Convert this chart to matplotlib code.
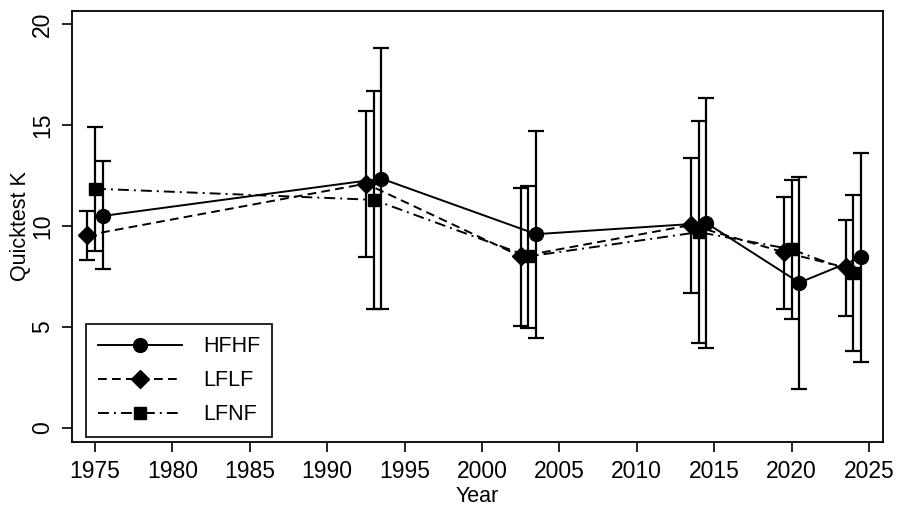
import matplotlib
matplotlib.use("Agg")
from matplotlib import pyplot as plt
import numpy as np

plt.rcParams['font.family'] = ['Liberation Sans', 'DejaVu Sans']

waves = np.array([1975, 1993, 2003, 2014, 2020, 2024])

# HFHF (circle), drawn at wave + 0.5
hfhf_mean = np.array([10.5, 12.35, 9.6, 10.15, 7.2, 8.45])
hfhf_lo = np.array([7.85, 5.9, 4.45, 3.95, 1.95, 3.25])
hfhf_hi = np.array([13.2, 18.8, 14.7, 16.35, 12.45, 13.6])

# LFLF (diamond), drawn at wave - 0.5
lflf_mean = np.array([9.55, 12.1, 8.5, 10.05, 8.7, 7.95])
lflf_lo = np.array([8.3, 8.45, 5.05, 6.7, 5.9, 5.55])
lflf_hi = np.array([10.75, 15.7, 11.9, 13.35, 11.45, 10.3])

# LFNF (square), drawn at wave
lfnf_mean = np.array([11.85, 11.3, 8.5, 9.7, 8.85, 7.7])
lfnf_lo = np.array([8.75, 5.9, 4.95, 4.2, 5.4, 3.8])
lfnf_hi = np.array([14.9, 16.7, 12.0, 15.2, 12.3, 11.55])

fig = plt.figure(figsize=(9.02, 5.08), dpi=100)
ax = fig.add_axes([0.0798, 0.130, 0.899, 0.848])

series = [
    ('HFHF', waves + 0.5, hfhf_mean, hfhf_lo, hfhf_hi, '-', 'o', 10),
    ('LFLF', waves - 0.5, lflf_mean, lflf_lo, lflf_hi, (0, (4.5, 2.7)), 'D', 9),
    ('LFNF', waves, lfnf_mean, lfnf_lo, lfnf_hi, (0, (5.6, 2.6, 1, 2.6)), 's', 9),
]

for name, x, m, lo, hi, ls, mk, ms in series:
    ax.errorbar(x, m, yerr=[m - lo, hi - m], fmt='none', ecolor='black',
                elinewidth=1.6, capsize=5.5, capthick=1.6, zorder=2)
for name, x, m, lo, hi, ls, mk, ms in series:
    ax.plot(x, m, color='black', linestyle=ls, lw=1.4, marker=mk,
            markersize=ms, label=name, zorder=3)

ax.set_xlim(1973.51, 2025.9)
ax.set_ylim(-0.69, 20.64)
ax.set_xticks(np.arange(1975, 2026, 5))
ax.set_yticks([0, 5, 10, 15, 20])
ax.tick_params(direction='out', length=7, width=1.2, labelsize=16.5,
               colors='black', pad=6)
for lab in ax.get_yticklabels():
    lab.set_rotation(90)
    lab.set_va('center')
for s in ax.spines.values():
    s.set_linewidth(1.3)

ax.set_xlabel('Year', fontsize=15.5, labelpad=2)
ax.set_ylabel('Quicktest K', fontsize=15.5, labelpad=0)

leg = ax.legend(loc='lower left', bbox_to_anchor=(0.0173, 0.0116),
                borderaxespad=0, fontsize=15.5, handlelength=3.9,
                handletextpad=1.0, borderpad=0.55, labelspacing=0.6,
                fancybox=False, edgecolor='black', framealpha=1)
leg.get_frame().set_linewidth(1.2)

fig.savefig('out.png', dpi=100)
